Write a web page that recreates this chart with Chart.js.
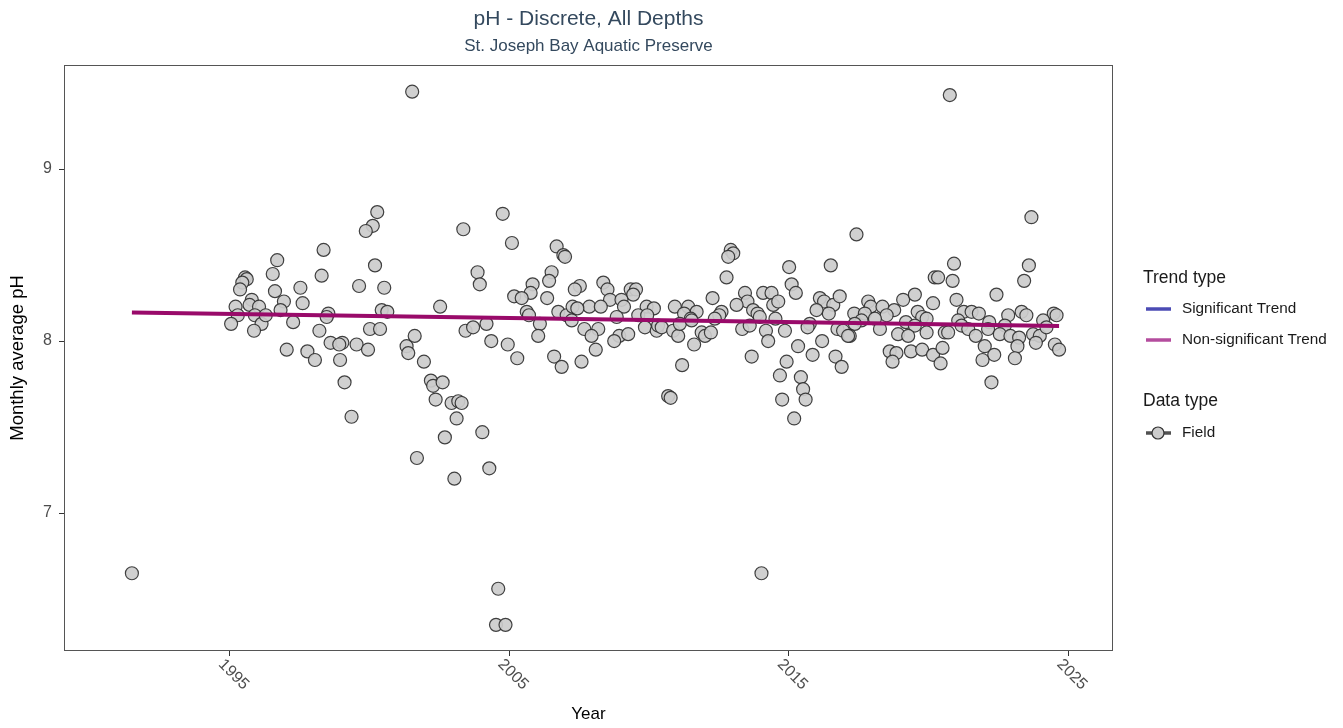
<!DOCTYPE html>
<html>
<head>
<meta charset="utf-8">
<script src="https://cdn.jsdelivr.net/npm/chart.js@4.4.1/dist/chart.umd.min.js"></script>
<style>
  html, body { margin: 0; padding: 0; background: #fff; }
  canvas { display: block; }
</style>
</head>
<body>
<canvas id="phChart" width="1343" height="728"></canvas>
<script>
// monthly averages, decimal year / pH
const years = [
  1991.49, 1996.69, 1996.53, 1995.54, 1995.60, 1995.44, 1995.36, 1996.61, 1997.52, 1995.78,
  1995.70, 1995.20, 1996.93, 1996.81, 1997.60, 1996.04, 1995.28, 1995.04, 1995.89, 1996.13,
  1996.28, 1997.26, 1995.86, 1997.03, 1997.77, 2000.27, 2000.11, 1999.86, 1998.35, 2000.19,
  1998.28, 1999.62, 2000.52, 1998.52, 1998.46, 2000.43, 2000.63, 1998.20, 2000.01, 2000.37,
  1998.60, 1999.02, 1998.91, 1999.53, 1999.94, 1998.04, 1998.94, 1999.10, 1999.35, 2001.32,
  2001.38, 2001.52, 2003.35, 2003.86, 2003.94, 2002.52, 2003.43, 2003.70, 2004.18, 2004.35,
  2001.61, 2001.94, 2002.19, 2002.27, 2002.61, 2002.36, 2002.93, 2003.17, 2003.29, 2003.11,
  2002.69, 2004.03, 2001.69, 2003.03, 2004.28, 2004.76, 2005.09, 2006.69, 2006.93, 2006.99,
  2006.51, 2006.42, 2005.83, 2005.76, 2005.17, 2005.44, 2006.35, 2005.62, 2005.70, 2006.75,
  2007.05, 2006.09, 2006.03, 2004.94, 2005.28, 2006.60, 2006.87, 2004.60, 2004.52, 2004.86,
  2008.36, 2008.51, 2007.52, 2007.34, 2009.34, 2009.53, 2009.43, 2008.60, 2009.01, 2009.10,
  2007.86, 2008.27, 2007.26, 2007.43, 2009.91, 2010.17, 2007.23, 2008.84, 2009.61, 2009.93,
  2007.68, 2008.18, 2007.94, 2009.85, 2010.27, 2008.93, 2009.25, 2008.75, 2008.09, 2007.58,
  2012.92, 2013.01, 2012.83, 2012.77, 2012.27, 2013.43, 2013.52, 2013.13, 2010.92, 2011.40,
  2011.70, 2011.25, 2011.49, 2012.59, 2012.51, 2012.35, 2010.32, 2010.45, 2010.86, 2011.04,
  2011.10, 2011.52, 2011.88, 2012.00, 2012.21, 2011.61, 2013.33, 2013.67, 2011.18, 2010.68,
  2010.77, 2015.01, 2016.50, 2015.10, 2015.25, 2014.08, 2014.38, 2014.44, 2014.62, 2013.72,
  2013.88, 2013.96, 2014.52, 2016.11, 2016.26, 2016.59, 2016.43, 2015.99, 2016.82, 2013.60,
  2014.18, 2014.86, 2015.75, 2015.67, 2016.74, 2016.94, 2014.26, 2015.33, 2016.19, 2015.85,
  2016.67, 2016.89, 2014.92, 2014.68, 2015.43, 2015.51, 2015.60, 2014.76, 2015.19, 2014.02,
  2017.42, 2020.22, 2019.09, 2019.51, 2017.84, 2017.93, 2018.35, 2018.77, 2018.50, 2017.34,
  2019.61, 2019.77, 2019.93, 2020.16, 2017.72, 2018.08, 2017.60, 2017.36, 2018.26, 2019.19,
  2019.51, 2017.18, 2017.12, 2018.91, 2019.27, 2019.93, 2018.61, 2018.85, 2018.71, 2019.37,
  2019.77, 2020.16, 2020.76, 2023.68, 2020.91, 2023.59, 2020.34, 2020.86, 2023.42, 2022.43,
  2021.00, 2021.26, 2021.54, 2021.80, 2022.85, 2023.33, 2023.50, 2024.48, 2024.58, 2024.10,
  2021.06, 2021.18, 2021.42, 2022.17, 2022.13, 2022.73, 2022.55, 2023.74, 2023.98, 2023.84,
  2024.22, 2020.58, 2020.70, 2021.69, 2022.93, 2023.24, 2023.18, 2024.52, 2024.67, 2022.01,
  2022.35, 2021.93, 2023.09, 2020.50, 2020.43, 2022.25
];
const phValues = [
  6.65, 8.47, 8.39, 8.37, 8.36, 8.34, 8.30, 8.29, 8.31, 8.24,
  8.21, 8.20, 8.23, 8.18, 8.22, 8.20, 8.15, 8.10, 8.15, 8.10,
  8.15, 8.11, 8.06, 7.95, 7.94, 8.75, 8.67, 8.64, 8.53, 8.44,
  8.38, 8.32, 8.31, 8.16, 8.14, 8.18, 8.17, 8.06, 8.07, 8.07,
  7.99, 7.99, 7.98, 7.98, 7.95, 7.89, 7.89, 7.76, 7.56, 7.97,
  7.93, 9.45, 8.65, 8.40, 8.33, 8.20, 8.06, 8.08, 8.10, 8.00,
  8.03, 7.88, 7.77, 7.74, 7.76, 7.66, 7.64, 7.65, 7.64, 7.55,
  7.44, 7.47, 7.32, 7.20, 7.26, 8.74, 8.57, 8.55, 8.50, 8.49,
  8.40, 8.35, 8.33, 8.28, 8.26, 8.25, 8.25, 8.17, 8.15, 8.17,
  8.15, 8.10, 8.03, 7.98, 7.90, 7.91, 7.85, 6.56, 6.35, 6.35,
  8.34, 8.30, 8.32, 8.30, 8.30, 8.30, 8.27, 8.24, 8.24, 8.20,
  8.20, 8.20, 8.20, 8.19, 8.20, 8.19, 8.12, 8.14, 8.15, 8.15,
  8.07, 8.07, 8.03, 8.08, 8.06, 8.03, 8.04, 8.00, 7.95, 7.88,
  8.53, 8.51, 8.49, 8.37, 8.25, 8.28, 8.23, 8.21, 8.20, 8.20,
  8.17, 8.16, 8.13, 8.17, 8.15, 8.13, 8.09, 8.08, 8.06, 8.03,
  8.10, 8.12, 8.05, 8.03, 8.05, 7.98, 8.07, 7.91, 7.86, 7.68,
  7.67, 8.43, 8.44, 8.33, 8.28, 8.28, 8.28, 8.21, 8.23, 8.18,
  8.16, 8.14, 8.13, 8.25, 8.23, 8.21, 8.16, 8.18, 8.26, 8.09,
  8.06, 8.06, 8.10, 8.08, 8.07, 8.06, 8.00, 7.97, 8.00, 7.92,
  7.91, 7.85, 7.88, 7.80, 7.79, 7.72, 7.66, 7.66, 7.55, 6.65,
  8.62, 8.37, 8.24, 8.27, 8.23, 8.20, 8.20, 8.18, 8.15, 8.16,
  8.17, 8.14, 8.13, 8.22, 8.16, 8.13, 8.12, 8.10, 8.07, 8.11,
  8.09, 8.03, 8.03, 8.04, 8.03, 8.05, 7.94, 7.93, 7.88, 7.94,
  7.95, 7.92, 9.43, 8.72, 8.45, 8.44, 8.37, 8.35, 8.35, 8.27,
  8.24, 8.17, 8.17, 8.16, 8.15, 8.17, 8.15, 8.16, 8.15, 8.12,
  8.12, 8.09, 8.07, 8.11, 8.07, 8.09, 8.04, 8.04, 8.03, 7.99,
  8.08, 8.05, 8.05, 8.03, 8.03, 8.02, 7.97, 7.98, 7.95, 7.97,
  7.92, 7.89, 7.90, 7.96, 7.87, 7.76
];

// non-significant trend line end points
const trendYears = [1991.49, 2024.67];
const trendValues = [8.166, 8.087];

const xTickValues = [1995, 2005, 2015, 2025];
const xTickLabels = ["1995", "2005", "2015", "2025"];
const yTickValues = [7, 8, 9];

const FONT = "'Liberation Sans', Arial, sans-serif";

const points = years.map((y, i) => ({ x: y, y: phValues[i] }));
const trend = trendYears.map((y, i) => ({ x: y, y: trendValues[i] }));

const extras = {
  id: 'extras',
  beforeDatasetsDraw(chart) {
    const { ctx, chartArea: a } = chart;
    ctx.save();
    ctx.strokeStyle = '#555';
    ctx.lineWidth = 1;
    ctx.strokeRect(a.left + 0.5, a.top + 0.5, a.right - a.left - 1, a.bottom - a.top - 1);
    ctx.restore();
  },
  afterDraw(chart) {
    const { ctx, chartArea: a } = chart;
    const xs = chart.scales.x;
    ctx.save();

    // titles
    ctx.fillStyle = '#34495e';
    ctx.textAlign = 'center';
    ctx.textBaseline = 'middle';
    ctx.font = '21px ' + FONT;
    ctx.fillText('pH - Discrete, All Depths', (a.left + a.right) / 2, 19);
    ctx.font = '17px ' + FONT;
    ctx.fillText('St. Joseph Bay Aquatic Preserve', (a.left + a.right) / 2, 46);

    // rotated x tick labels
    ctx.fillStyle = '#4d4d4d';
    ctx.font = '16px ' + FONT;
    ctx.textAlign = 'left';
    ctx.textBaseline = 'middle';
    xTickValues.forEach((v, i) => {
      const px = xs.getPixelForValue(v);
      ctx.save();
      ctx.translate(px - 9, a.bottom + 11);
      ctx.rotate(Math.PI / 4);
      ctx.fillText(xTickLabels[i], 0, 0);
      ctx.restore();
    });

    // legend
    const lx = 1143;
    ctx.textAlign = 'left';
    ctx.textBaseline = 'middle';
    ctx.fillStyle = '#1a1a1a';
    ctx.font = '17.5px ' + FONT;
    ctx.fillText('Trend type', lx, 278);
    ctx.fillText('Data type', lx, 401);

    ctx.font = '15.3px ' + FONT;
    const keys = [
      { y: 309, color: '#4b4bb4', label: 'Significant Trend' },
      { y: 340, color: '#b44c9e', label: 'Non-significant Trend' }
    ];
    keys.forEach(k => {
      ctx.strokeStyle = k.color;
      ctx.lineWidth = 3.5;
      ctx.beginPath();
      ctx.moveTo(lx + 3, k.y);
      ctx.lineTo(lx + 28, k.y);
      ctx.stroke();
      ctx.fillStyle = '#1a1a1a';
      ctx.fillText(k.label, lx + 39, k.y);
    });

    ctx.strokeStyle = 'rgba(50,50,50,0.85)';
    ctx.lineWidth = 3.5;
    ctx.beginPath();
    ctx.moveTo(lx + 3, 433);
    ctx.lineTo(lx + 28, 433);
    ctx.stroke();
    ctx.beginPath();
    ctx.arc(lx + 15, 433, 6, 0, Math.PI * 2);
    ctx.fillStyle = '#cccccc';
    ctx.fill();
    ctx.lineWidth = 1.2;
    ctx.strokeStyle = '#333';
    ctx.stroke();
    ctx.fillStyle = '#1a1a1a';
    ctx.fillText('Field', lx + 39, 433);

    ctx.restore();
  }
};

new Chart(document.getElementById('phChart'), {
  type: 'scatter',
  data: {
    datasets: [
      {
        label: 'Non-significant Trend',
        type: 'line',
        data: trend,
        borderColor: '#990a6a',
        borderWidth: 4,
        pointRadius: 0,
        fill: false,
        order: 0
      },
      {
        label: 'Field',
        data: points,
        pointRadius: 6.5,
        pointHoverRadius: 6.5,
        backgroundColor: 'rgba(204,204,204,0.92)',
        borderColor: 'rgba(45,45,45,0.9)',
        borderWidth: 1.2,
        order: 1
      }
    ]
  },
  options: {
    responsive: false,
    devicePixelRatio: 1,
    animation: false,
    layout: { padding: { top: 65, right: 230, left: 0, bottom: 0 } },
    plugins: {
      legend: { display: false },
      title: { display: false },
      tooltip: { enabled: false }
    },
    scales: {
      x: {
        type: 'linear',
        min: 1989.06,
        max: 2026.6,
        afterBuildTicks: s => { s.ticks = xTickValues.map(v => ({ value: v })); },
        afterFit: s => { s.height = 77; },
        ticks: { display: false },
        grid: { drawOnChartArea: false, drawTicks: true, tickLength: 5, color: '#333' },
        border: { display: false },
        title: {
          display: true, text: 'Year', color: '#000',
          font: { size: 17, family: FONT }, padding: { top: 0, bottom: 3 }
        }
      },
      y: {
        min: 6.198,
        max: 9.605,
        afterBuildTicks: s => { s.ticks = yTickValues.map(v => ({ value: v })); },
        afterFit: s => { s.width = 64; },
        ticks: { color: '#4d4d4d', font: { size: 16, family: FONT }, padding: 7 },
        grid: { drawOnChartArea: false, drawTicks: true, tickLength: 5, color: '#333' },
        border: { display: false },
        title: {
          display: true, text: 'Monthly average pH', color: '#000',
          font: { size: 18.5, family: FONT }, padding: { top: 7, bottom: 0 }
        }
      }
    }
  },
  plugins: [extras]
});
</script>
</body>
</html>
